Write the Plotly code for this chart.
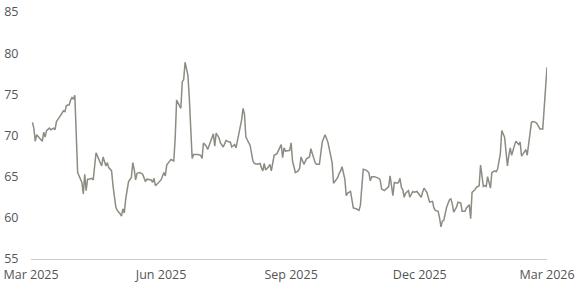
import plotly.graph_objects as go

dates = [
    "2025-03-02","2025-03-03","2025-03-04","2025-03-05","2025-03-07","2025-03-09","2025-03-10","2025-03-11",
    "2025-03-12","2025-03-14","2025-03-15","2025-03-17","2025-03-18","2025-03-19","2025-03-21","2025-03-22",
    "2025-03-24","2025-03-25","2025-03-26","2025-03-27","2025-03-28","2025-03-29","2025-03-30","2025-03-31",
    "2025-04-01","2025-04-03","2025-04-04","2025-04-06","2025-04-07","2025-04-08","2025-04-09","2025-04-10",
    "2025-04-11","2025-04-13","2025-04-14","2025-04-16","2025-04-17","2025-04-19","2025-04-20","2025-04-21",
    "2025-04-23","2025-04-24","2025-04-25","2025-04-27","2025-04-28","2025-04-30","2025-05-01","2025-05-03",
    "2025-05-04","2025-05-05","2025-05-06","2025-05-07","2025-05-08","2025-05-09","2025-05-11","2025-05-12",
    "2025-05-13","2025-05-14","2025-05-15","2025-05-17","2025-05-19","2025-05-21","2025-05-22","2025-05-25",
    "2025-05-26","2025-05-27","2025-05-28","2025-05-30","2025-06-01","2025-06-03","2025-06-04","2025-06-05",
    "2025-06-07","2025-06-08","2025-06-10","2025-06-11","2025-06-12","2025-06-14","2025-06-15","2025-06-16",
    "2025-06-17","2025-06-18","2025-06-20","2025-06-21","2025-06-22","2025-06-23","2025-06-24","2025-06-27",
    "2025-06-29","2025-06-30","2025-07-01","2025-07-03","2025-07-04","2025-07-05","2025-07-07","2025-07-08",
    "2025-07-09","2025-07-10","2025-07-12","2025-07-13","2025-07-15","2025-07-17","2025-07-19","2025-07-20",
    "2025-07-21","2025-07-23","2025-07-24","2025-07-25","2025-07-26","2025-07-28","2025-07-29","2025-07-30",
    "2025-07-31","2025-08-02","2025-08-03","2025-08-05","2025-08-06","2025-08-08","2025-08-10","2025-08-11",
    "2025-08-12","2025-08-13","2025-08-14","2025-08-16","2025-08-17","2025-08-18","2025-08-20","2025-08-22",
    "2025-08-24","2025-08-25","2025-08-26","2025-08-27","2025-08-28","2025-08-31","2025-09-01","2025-09-02",
    "2025-09-04","2025-09-06","2025-09-07","2025-09-08","2025-09-10","2025-09-11","2025-09-12","2025-09-14",
    "2025-09-15","2025-09-16","2025-09-18","2025-09-19","2025-09-21","2025-09-23","2025-09-24","2025-09-25",
    "2025-09-27","2025-09-28","2025-09-30","2025-10-01","2025-10-03","2025-10-04","2025-10-05","2025-10-06",
    "2025-10-07","2025-10-09","2025-10-10","2025-10-11","2025-10-13","2025-10-14","2025-10-15","2025-10-17",
    "2025-10-19","2025-10-20","2025-10-22","2025-10-24","2025-10-26","2025-10-27","2025-10-28","2025-10-30",
    "2025-11-02","2025-11-03","2025-11-04","2025-11-06","2025-11-07","2025-11-09","2025-11-10","2025-11-11",
    "2025-11-12","2025-11-13","2025-11-15","2025-11-16","2025-11-17","2025-11-18","2025-11-19","2025-11-20",
    "2025-11-21","2025-11-23","2025-11-24","2025-11-26","2025-11-27","2025-11-29","2025-11-30","2025-12-02",
    "2025-12-03","2025-12-04","2025-12-06","2025-12-07","2025-12-08","2025-12-10","2025-12-11","2025-12-12",
    "2025-12-14","2025-12-15","2025-12-16","2025-12-17","2025-12-18","2025-12-19","2025-12-20","2025-12-22",
    "2025-12-23","2025-12-24","2025-12-25","2025-12-27","2025-12-28","2025-12-30","2025-12-31","2026-01-02",
    "2026-01-03","2026-01-05","2026-01-06","2026-01-07","2026-01-09","2026-01-10","2026-01-12","2026-01-13",
    "2026-01-14","2026-01-15","2026-01-16","2026-01-17","2026-01-18","2026-01-20","2026-01-21","2026-01-23",
    "2026-01-24","2026-01-25","2026-01-27","2026-01-28","2026-01-30","2026-01-31","2026-02-01","2026-02-02",
    "2026-02-03","2026-02-04","2026-02-05","2026-02-06","2026-02-07","2026-02-09","2026-02-10","2026-02-11",
    "2026-02-13","2026-02-14","2026-02-15","2026-02-16","2026-02-18","2026-02-19","2026-02-21","2026-02-22",
    "2026-02-24","2026-02-26","2026-02-27","2026-02-28","2026-03-01",
]

values = [
    71.6,70.9,69.3,70.1,69.7,69.3,70.4,69.8,
    70.6,70.9,70.7,70.9,70.7,71.7,72.2,72.5,
    73.0,72.9,73.6,73.7,73.7,74.3,74.6,74.4,
    74.9,65.5,65.1,64.3,62.9,65.3,63.3,64.7,
    64.7,64.8,64.6,67.9,67.5,66.8,66.3,67.4,
    66.3,66.7,66.1,65.7,63.9,61.3,60.9,60.5,
    60.2,61.1,60.6,62.3,63.5,64.4,64.9,66.7,
    65.9,64.6,65.4,65.5,65.3,64.4,64.7,64.6,
    64.3,64.8,63.9,64.2,64.6,65.5,65.1,66.4,
    66.8,67.1,66.9,69.7,74.3,73.7,73.3,76.5,
    76.8,78.9,77.3,74.5,71.6,67.2,67.7,67.7,
    67.6,67.2,69.1,68.7,68.3,68.8,69.7,70.2,
    68.7,70.3,69.7,69.1,68.6,69.4,69.2,69.2,
    68.6,68.9,68.5,69.3,69.9,71.9,73.3,72.6,
    69.8,69.2,68.8,66.9,66.6,66.5,66.6,66.1,
    65.7,66.6,65.8,66.2,66.5,65.7,67.6,67.8,
    68.7,68.9,67.3,68.5,68.1,68.2,69.1,66.9,
    65.5,65.7,66.0,67.4,66.5,66.9,67.2,67.4,
    68.4,67.8,66.7,66.5,66.5,69.2,69.6,70.1,
    69.2,68.3,66.7,64.2,64.6,64.9,65.4,65.7,
    66.2,64.7,62.7,63.0,63.2,62.1,61.2,61.1,
    60.9,61.5,65.9,65.8,65.5,64.5,65.0,65.0,
    64.8,64.6,63.5,63.3,63.5,63.8,65.1,64.1,
    62.7,64.3,64.2,64.3,64.8,63.7,63.4,62.5,
    63.0,63.3,62.5,63.2,63.1,63.2,63.0,62.5,
    63.1,63.6,63.1,62.6,61.9,62.0,61.2,60.9,
    60.8,60.0,58.9,59.6,59.7,60.5,61.3,62.2,
    62.3,61.7,60.7,61.3,61.9,61.8,60.8,60.8,
    61.2,61.6,59.9,63.1,63.4,63.7,63.9,66.4,
    64.7,63.8,63.9,63.8,65.0,63.6,65.5,65.7,
    65.6,65.9,67.8,70.6,69.8,68.0,66.3,67.6,
    68.5,67.6,68.4,68.8,69.3,68.9,69.2,67.5,
    68.0,68.3,67.6,68.9,71.6,71.7,71.6,71.4,
    70.8,70.8,73.3,75.7,78.3,
]

x_tick_vals = ["2025-03-01", "2025-06-01", "2025-09-01", "2025-12-01", "2026-03-01"]
x_tick_text = ["Mar 2025", "Jun 2025", "Sep 2025", "Dec 2025", "Mar 2026"]
y_tick_vals = [55, 60, 65, 70, 75, 80, 85]

fig = go.Figure()
fig.add_trace(go.Scatter(
    x=dates, y=values, mode="lines",
    line=dict(color="#8c8c82", width=1.5),
    showlegend=False, hoverinfo="skip",
))

font = dict(family="Open Sans, Noto Sans, sans-serif", size=12.5, color="#555555")

fig.update_layout(
    width=580, height=290,
    margin=dict(l=31, r=33, t=12, b=31),
    paper_bgcolor="white", plot_bgcolor="white",
    font=font,
    xaxis=dict(
        type="date",
        range=["2025-03-01", "2026-03-01"],
        tickvals=x_tick_vals, ticktext=x_tick_text,
        showgrid=False, zeroline=False,
        showline=True, linecolor="#cccccc", linewidth=1,
        ticks="outside", ticklen=4, tickcolor="rgba(0,0,0,0)",
        tickfont=font, automargin=False,
    ),
    yaxis=dict(
        range=[55, 85],
        tickvals=y_tick_vals,
        showgrid=False, zeroline=False, showline=False,
        ticks="outside", ticklen=9, tickcolor="rgba(0,0,0,0)",
        tickfont=font, automargin=False,
    ),
)

fig.write_html("out.html")
